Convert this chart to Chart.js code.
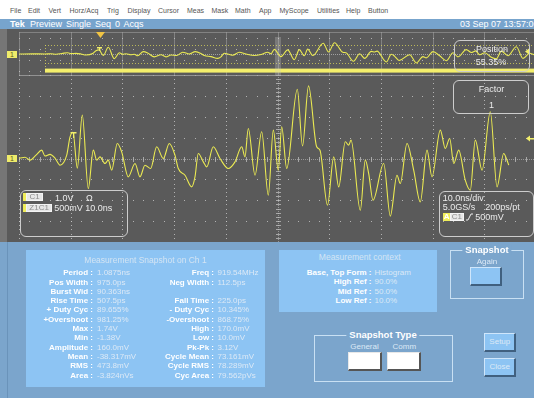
<!DOCTYPE html>
<html>
<head>
<meta charset="utf-8">
<script src="https://cdn.jsdelivr.net/npm/chart.js@4.4.1/dist/chart.umd.min.js"></script>
<style>
  * { box-sizing: border-box; }
  body { margin: 0; width: 534px; height: 398px; overflow: hidden; position: relative; background: #fff;
         font-family: "Liberation Sans", Arial, sans-serif; }
  .a { position: absolute; white-space: nowrap; }
  #menu { left: 0; top: 0; width: 534px; height: 18.5px; background: #fff; }
  .mi { position: absolute; top: 7px; font-size: 7px; line-height: 8px; color: #555; }
  #title { left: 0; top: 18.5px; width: 534px; height: 10.5px; background: #77a4cd; }
  .tt { position: absolute; top: 0; font-size: 9px; line-height: 11px; color: #fff; }
  #scope { left: 0; top: 29px; width: 534px; height: 213px; background: #5a5a5a; }
  #strip { left: 0; top: 29px; width: 7px; height: 213px; background: #767676; }
  canvas { position: absolute; }
  .chmark { position: absolute; left: 7px; width: 10px; height: 7px; background: #efec6a; color: #5e5a1e;
            font-size: 7px; line-height: 7px; text-align: center; }
  .rbox { position: absolute; border: 1.3px solid #cdcdcd; border-radius: 6px; }
  .rt { position: absolute; font-size: 9px; line-height: 10px; color: #ececec; white-space: nowrap; }
  .chip { position: absolute; height: 8px; border: 1px solid #f4f4f4; background: #e6e6e6; font-size: 8px;
          line-height: 6px; color: #8c8c8c; text-align: center; }
  .ybar { position: absolute; width: 3px; height: 8px; background: #efec5a; }
  #panel { left: 0; top: 242px; width: 534px; height: 156px; background: #7ba5cc; }
  #pline { left: 7px; top: 242px; width: 1px; height: 156px; background: #6a93ba; }
  .box { position: absolute; background: #8dc4f3; }
  .ml { position: absolute; font-size: 8px; line-height: 9px; font-weight: bold; color: #fff; text-align: right; white-space: nowrap; }
  .mv { position: absolute; font-size: 8px; line-height: 9px; color: #dce9f6; white-space: nowrap; }
  .grp { position: absolute; border: 1px solid #c9e0f3; }
  .gt { position: absolute; font-size: 9.5px; line-height: 10px; font-weight: bold; color: #fff; background: #7ba5cc;
        padding: 0 3px; transform: translateX(-50%); white-space: nowrap; }
  .cap { position: absolute; font-size: 8px; line-height: 9px; color: #dce9f6; transform: translateX(-50%); white-space: nowrap; }
  .btn { position: absolute; background: #8dc4f3; border-top: 1px solid #cfe6fb; border-left: 1px solid #cfe6fb;
         border-right: 2px solid #40607f; border-bottom: 2px solid #40607f; font-size: 8px; color: #dce9f6;
         text-align: center; line-height: 15px; }
  .wbtn { position: absolute; background: #fff; border-top: 1px solid #e8e8e8; border-left: 1px solid #e8e8e8;
          border-right: 2px solid #555; border-bottom: 2px solid #555; }
</style>
</head>
<body>

<div id="menu" class="a"></div>
<div id="title" class="a">
  <span class="tt" style="left:10px;font-weight:bold">Tek</span>
  <span class="tt" style="left:30px;word-spacing:1.5px">Preview Single Seq 0 Acqs</span>
  <span class="tt" style="left:460px">03 Sep 07 13:57:06</span>
</div>

<div id="scope" class="a"></div>
<div id="strip" class="a"></div>

<canvas id="overview" width="517" height="44" style="left:19px;top:31.7px"></canvas>
<canvas id="main" width="517" height="167" style="left:19px;top:75px"></canvas>

<div class="chmark" style="top:50.5px">1</div>
<div class="chmark" style="top:155px">1</div>

<!-- position readout over the overview -->
<div class="rbox" style="left:454px;top:39.5px;width:76px;height:32.5px"></div>
<div class="rt" style="left:492px;top:43.5px;transform:translateX(-50%)">Position</div>
<div class="rt" style="left:491px;top:57px;transform:translateX(-50%)">55.35%</div>

<!-- zoom factor readout -->
<div class="rbox" style="left:453.3px;top:80px;width:76px;height:34px"></div>
<div class="rt" style="left:491.5px;top:84px;transform:translateX(-50%)">Factor</div>
<div class="rt" style="left:491.5px;top:99.5px;transform:translateX(-50%)">1</div>

<!-- channel readout -->
<div class="rbox" style="left:20px;top:190px;width:107.5px;height:47px"></div>
<div class="ybar" style="left:23.3px;top:193.3px"></div>
<div class="chip" style="left:26px;top:193.3px;width:17.3px">C1</div>
<div class="rt" style="left:55px;top:192.5px">1.0V</div>
<div class="rt" style="left:86px;top:192.5px">Ω</div>
<div class="ybar" style="left:23.3px;top:203.5px"></div>
<div class="chip" style="left:26px;top:203.5px;width:26.3px">Z1C1</div>
<div class="rt" style="left:54.3px;top:202.5px">500mV 10.0ns</div>

<!-- timebase / trigger readout -->
<div class="rbox" style="left:438.7px;top:190.7px;width:95px;height:46px"></div>
<div class="rt" style="left:442.7px;top:193px">10.0ns/div</div>
<div class="rt" style="left:442.7px;top:202px">5.0GS/s</div>
<div class="rt" style="left:485.3px;top:202px">200ps/pt</div>
<div class="chip" style="left:442.7px;top:212.7px;width:7px;background:#efec5a;border-color:#efec5a;color:#fff;font-weight:bold">A</div>
<div class="chip" style="left:450.3px;top:212.7px;width:13.3px">C1</div>
<svg class="a" style="left:465px;top:212px" width="9" height="9"><polyline points="1,8 3,8 6,2 8,2" fill="none" stroke="#ececec" stroke-width="1"/></svg>
<div class="rt" style="left:475.3px;top:212px">500mV</div>

<div id="panel" class="a"></div>
<div id="pline" class="a"></div>

<div class="box" style="left:26px;top:250px;width:239px;height:137px"></div>
<div class="cap" style="left:145.5px;top:255.5px;font-size:8.5px;color:#d3e4f3">Measurement Snapshot on Ch 1</div>
<div id="meas"></div>

<div class="box" style="left:279.3px;top:250px;width:157.7px;height:62.3px"></div>
<div class="cap" style="left:359.7px;top:253px;font-size:8.5px;color:#d3e4f3">Measurement context</div>
<div id="ctx"></div>

<div class="grp" style="left:450.3px;top:250px;width:74px;height:49px"></div>
<div class="gt" style="left:487px;top:245px">Snapshot</div>
<div class="cap" style="left:487px;top:257px">Again</div>
<div class="btn" style="left:470.3px;top:267.3px;width:31.7px;height:18.4px"></div>

<div class="grp" style="left:314.3px;top:335px;width:138.7px;height:46.7px"></div>
<div class="gt" style="left:383px;top:330px">Snapshot Type</div>
<div class="cap" style="left:364.5px;top:341.5px">General</div>
<div class="cap" style="left:404.3px;top:341.5px">Comm</div>
<div class="wbtn" style="left:347.7px;top:352.3px;width:34.3px;height:18.4px"></div>
<div class="wbtn" style="left:387px;top:352.3px;width:34.3px;height:18.4px"></div>

<div class="btn" style="left:484.3px;top:333.3px;width:32px;height:18.4px">Setup</div>
<div class="btn" style="left:484.3px;top:358.3px;width:32px;height:18.4px">Close</div>

<script>
// ---- menu bar ----
const menuItems = ["File", "Edit", "Vert", "Horz/Acq", "Trig", "Display", "Cursor", "Meas", "Mask",
                   "Math", "App", "MyScope", "Utilities", "Help", "Button"];
const menuX = [10, 28, 48.5, 69.5, 107, 127.5, 158, 187, 211.5, 235, 259, 279.5, 317, 346, 368];

// ---- acquired trace (time in ns, amplitude in V) ----
const timeNs = [-5.0, -2.5, 0, 1.16, 2.13, 3.29, 4.39, 5.03, 6.0, 6.96, 7.93, 9.23, 9.86, 10.44, 11.28,
  12.24, 13.40, 14.37, 15.03, 15.67, 16.63, 17.27, 17.93, 19.01, 19.86, 21.14, 22.44, 23.40, 24.37,
  25.47, 26.63, 27.91, 29.07, 30.17, 30.81, 32.11, 33.40, 34.04, 34.68, 35.65, 36.31, 37.58, 38.88,
  40.48, 41.78, 43.08, 43.71, 44.35, 45.65, 46.94, 48.22, 49.19, 50.15, 50.81, 51.78, 53.83, 54.84,
  56.0, 57.58, 58.22, 59.67, 60.87, 61.84, 63.11, 63.77, 64.22, 66.02, 66.98, 67.64, 68.47, 70.54,
  71.82, 73.11, 73.75, 75.05, 76.34, 77.62, 78.92, 79.88, 81.49, 82.46, 83.31, 84.08, 85.05, 86.32,
  87.29, 88.26, 89.56, 91.16, 92.46, 93.75, 94.39, 94.72];
const volts = [0.0, 0.02, 0.01, 0.03, -0.04, 0.08, 0.20, 0.06, 0.10, 0.01, -0.16, 0.08, 0.51, 0.63, -0.23,
  1.04, -0.72, 0.20, -0.04, 0.04, -0.12, -0.04, -0.28, 0.36, 0.16, -0.44, -0.12, -0.44, -0.16,
  -0.24, 0.28, 0.0, 0.36, 0.08, -0.24, -0.40, -0.68, -0.44, 0.12, -0.08, -0.20, 0.28, 0.0,
  -0.24, -0.08, 0.28, 0.04, 0.72, -0.40, 0.64, -0.88, 0.68, -0.28, 0.76, -0.24, 1.66, 0.30,
  1.74, 0.28, 0.20, -1.12, 0.04, -0.68, 0.40, 0.32, 0.44, -1.24, -0.04, -0.36, -1.0, -0.12,
  -1.38, -0.40, -0.60, 0.36, -0.28, -1.04, 0.20, -0.44, 0.68, 0.24, 0.48, -0.12, 0.20, -0.52,
  -0.76, 0.44, -0.28, 1.12, -0.68, 0.12, -0.04, -0.16];

// trigger point and level
const trigTimeNs = 10.5;
const trigLevelV = 0.5;

// ---- measurement readouts ----
const measLabelsL = ["Period", "Pos Width", "Burst Wid", "Rise Time", "+ Duty Cyc", "+Overshoot",
                     "Max", "Min", "Amplitude", "Mean", "RMS", "Area"];
const measValuesL = ["1.0875ns", "975.0ps", "90.363ns", "507.5ps", "89.655%", "981.25%",
                     "1.74V", "-1.38V", "160.0mV", "-38.317mV", "473.8mV", "-3.824nVs"];
const measLabelsR = ["Freq", "Neg Width", "", "Fall Time", "- Duty Cyc", "-Overshoot",
                     "High", "Low", "Pk-Pk", "Cycle Mean", "Cycle RMS", "Cyc Area"];
const measValuesR = ["919.54MHz", "112.5ps", "", "225.0ps", "10.345%", "868.75%",
                     "170.0mV", "10.0mV", "3.12V", "73.161mV", "78.289mV", "79.562pVs"];
const ctxLabels = ["Base, Top Form", "High Ref", "Mid Ref", "Low Ref"];
const ctxValues = ["Histogram", "90.0%", "50.0%", "10.0%"];

// ---- build text blocks ----
const menu = document.getElementById('menu');
menuItems.forEach((m, i) => {
  const s = document.createElement('span'); s.className = 'mi'; s.textContent = m;
  s.style.left = menuX[i] + 'px'; menu.appendChild(s);
});

function addText(parent, cls, text, style) {
  const d = document.createElement('div'); d.className = cls; d.textContent = text;
  Object.assign(d.style, style); parent.appendChild(d);
}
const meas = document.getElementById('meas');
measLabelsL.forEach((lab, i) => {
  const top = (268.2 + i * 9.3) + 'px';
  addText(meas, 'ml', lab + ' :', { right: (534 - 93) + 'px', top });
  addText(meas, 'mv', measValuesL[i], { left: '97px', top });
  if (measLabelsR[i]) {
    addText(meas, 'ml', measLabelsR[i] + ' :', { right: (534 - 214) + 'px', top });
    addText(meas, 'mv', measValuesR[i], { left: '217.5px', top });
  }
});
const ctxBox = document.getElementById('ctx');
ctxLabels.forEach((lab, i) => {
  const top = (267.8 + i * 9.4) + 'px';
  addText(ctxBox, 'ml', lab + ' :', { right: (534 - 371.5) + 'px', top });
  addText(ctxBox, 'mv', ctxValues[i], { left: '374.5px', top });
});

// ---- graticule drawn beneath the trace ----
const graticule = {
  id: 'graticule',
  beforeDatasetsDraw(chart, args, o) {
    const { ctx, chartArea: a } = chart;
    const nx = 10, ny = 8;
    const dx = (a.right - a.left) / nx, dy = (a.bottom - a.top) / ny;
    ctx.save();
    if (o.overview) {
      // solid division lines, dotted rows
      ctx.fillStyle = 'rgba(170,170,170,0.5)';
      for (let i = 0; i <= nx; i++) ctx.fillRect(Math.round(a.left + i * dx), a.top, 1, a.bottom - a.top);
      ctx.fillRect(a.left, Math.round(a.top), a.right - a.left, 1);
      ctx.fillStyle = 'rgba(205,205,205,0.75)';
      for (const j of [1, 3, 5, 7]) {
        const y = Math.round(a.top + j * dy);
        for (let i = 0; i <= nx * 5; i++) ctx.fillRect(Math.round(a.left + i * dx / 5), y, 1, 1);
      }
      const yc = Math.round(a.top + 4 * dy);
      ctx.fillStyle = 'rgba(205,205,205,0.6)';
      for (let x = a.left; x < a.right; x += 2) ctx.fillRect(x, yc, 1, 1);
      // zoom window marker
      const xs = chart.scales.x, ys = chart.scales.y;
      const x0 = Math.round(xs.getPixelForValue(0));
      const yT = Math.round(ys.getPixelForValue(1.45)), yB = Math.round(ys.getPixelForValue(-1.45));
      ctx.fillStyle = 'rgba(220,216,90,0.75)';
      for (let x = x0; x < a.right; x += 3) { ctx.fillRect(x, yT, 1, 1); ctx.fillRect(x, yB, 1, 1); }
      for (let y = yT; y < a.bottom - 7; y += 3) ctx.fillRect(x0, y, 1, 1);
      ctx.fillStyle = '#f4ef6c';
      ctx.fillRect(x0, a.bottom - 7.4, a.right - x0, 4);
      // horizontal position band
      ctx.fillStyle = 'rgba(200,200,200,0.28)';
      ctx.fillRect(Math.round(a.left + 5 * dx) - 3, a.top + 5, 6, a.bottom - a.top - 5);
    } else {
      ctx.fillStyle = 'rgba(200,200,200,0.8)';
      for (let i = 0; i <= nx; i++) {
        if (i === 5) continue;
        const x = Math.round(a.left + i * dx);
        for (let j = 0; j <= ny * 5; j++) ctx.fillRect(x, Math.round(a.top + j * dy / 5), 1, 1);
      }
      for (let j = 0; j <= ny; j++) {
        if (j === 4) continue;
        const y = Math.round(a.top + j * dy);
        for (let i = 0; i <= nx * 5; i++) ctx.fillRect(Math.round(a.left + i * dx / 5), y, 1, 1);
      }
      // centre lines with minor ticks
      const xc = Math.round(a.left + 5 * dx), yc = Math.round(a.top + 4 * dy);
      ctx.fillStyle = 'rgba(200,200,200,0.55)';
      for (let x = a.left; x < a.right; x += 2) ctx.fillRect(x, yc, 1, 1);
      for (let y = a.top; y < a.bottom; y += 2) ctx.fillRect(xc, y, 1, 1);
      ctx.fillStyle = 'rgba(200,200,200,0.7)';
      for (let i = 0; i <= nx * 5; i++) ctx.fillRect(Math.round(a.left + i * dx / 5), yc - 2, 1, 5);
      for (let j = 0; j <= ny * 5; j++) ctx.fillRect(xc - 2, Math.round(a.top + j * dy / 5), 5, 1);
      // top frame
      ctx.fillStyle = 'rgba(170,170,170,0.7)';
      ctx.fillRect(a.left, a.top, a.right - a.left, 1);
    }
    ctx.restore();
  }
};

// ---- trigger markers drawn over the trace ----
const markers = {
  id: 'markers',
  afterDatasetsDraw(chart, args, o) {
    const { ctx, chartArea: a } = chart;
    const xs = chart.scales.x, ys = chart.scales.y;
    const tx = Math.round(xs.getPixelForValue(trigTimeNs));
    const ty = Math.round(ys.getPixelForValue(trigLevelV));
    const h = o.overview ? 4 : 6, w = o.overview ? 2 : 2.5;
    ctx.save();
    ctx.fillStyle = '#f2ef6a';
    ctx.fillRect(tx - w, ty - h, 2 * w + 1, 1.5);
    ctx.fillRect(tx, ty - h, 1.3, h);
    // trigger level arrow at the right edge
    const ax = o.arrowX;
    ctx.beginPath();
    ctx.moveTo(ax, ty + 0.5); ctx.lineTo(ax + 4, ty - 2.5); ctx.lineTo(ax + 4, ty + 3.5); ctx.closePath(); ctx.fill();
    if (!o.overview) ctx.fillRect(ax + 4, ty, 5, 1.5);
    if (o.overview) {
      ctx.fillStyle = '#f1c444';
      ctx.beginPath();
      ctx.moveTo(tx - 3, a.top); ctx.lineTo(tx + 6, a.top); ctx.lineTo(tx + 1.5, a.top + 6); ctx.closePath(); ctx.fill();
    }
    ctx.restore();
  }
};

const trace = timeNs.map((t, i) => ({ x: t, y: volts[i] }));

function scopeChart(id, xmin, xmax, yrange, opts) {
  return new Chart(document.getElementById(id), {
    type: 'line',
    data: { datasets: [{ data: trace, borderColor: '#ebea52', borderWidth: 1.1,
                         pointRadius: 0, cubicInterpolationMode: 'monotone', fill: false }] },
    options: {
      responsive: false, animation: false, devicePixelRatio: 1, events: [],
      layout: { padding: 0 },
      plugins: { legend: { display: false }, tooltip: { enabled: false },
                 graticule: opts, markers: opts },
      scales: {
        x: { type: 'linear', min: xmin, max: xmax, display: false },
        y: { type: 'linear', min: -yrange, max: yrange, display: false }
      }
    },
    plugins: [graticule, markers]
  });
}

// overview shows the record offset by half a division; main window spans 0..100 ns at 500 mV/div
scopeChart('overview', -5.03, 94.97, 3.4, { overview: true, arrowX: 506 });
scopeChart('main', 0, 100, 2.0, { overview: false, arrowX: 507 });
</script>
</body>
</html>
